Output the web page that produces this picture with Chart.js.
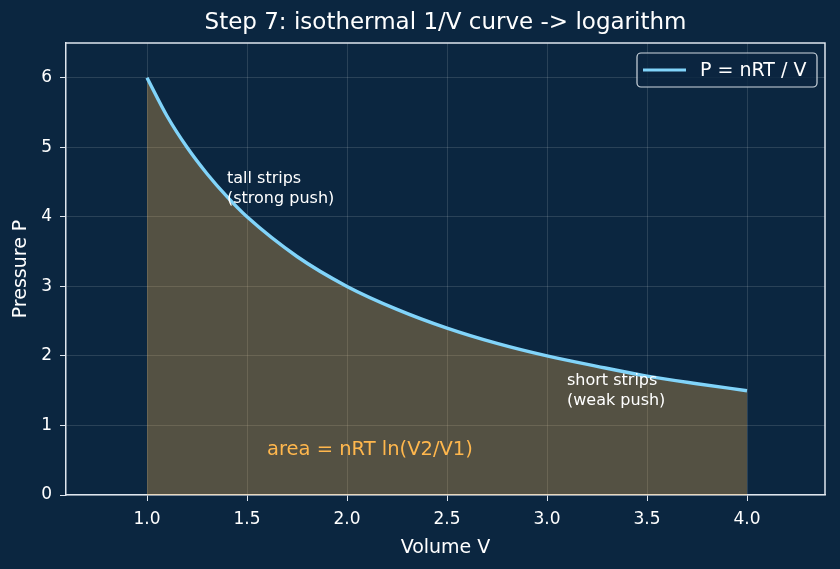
<!DOCTYPE html>
<html>
<head>
<meta charset="utf-8">
<script src="https://cdn.jsdelivr.net/npm/chart.js@4.4.0/dist/chart.umd.min.js"></script>
<style>
  html, body { margin: 0; padding: 0; background: #0b2640; }
  #wrap { width: 840px; height: 569px; }
</style>
</head>
<body>
<div id="wrap"><canvas id="isoterma"></canvas></div>
<script>
// valores
const volumes = [1.0, 1.1, 1.2, 1.3, 1.4, 1.5, 1.75, 2.0, 2.25, 2.5, 2.75, 3.0, 3.25, 3.5, 3.75, 4.0];
const pressoes = [6.0, 5.45, 5.0, 4.62, 4.29, 4.0, 3.43, 3.0, 2.67, 2.4, 2.18, 2.0, 1.85, 1.71, 1.6, 1.5];
const xTicks = [1.0, 1.5, 2.0, 2.5, 3.0, 3.5, 4.0];
const yTicks = [0, 1, 2, 3, 4, 5, 6];

const titulo = 'Step 7: isothermal 1/V curve -> logarithm';
const legenda = 'P = nRT / V';
const notas = [
    { x: 1.4, y: 4.2, lines: ['tall strips', '(strong push)'], color: '#ffffff', size: 16 },
    { x: 3.1, y: 1.3, lines: ['short strips', '(weak push)'], color: '#ffffff', size: 16 },
    { x: 1.6, y: 0.58, lines: ['area = nRT ln(V2/V1)'], color: '#ffb74d', size: 19.5 }
];

const corFundo = '#0b2640';
const corLinha = '#81d4fa';
const corEixo = '#dfe6ee';
const fonte = 'DejaVu Sans';

// desenha fundo, titulo, moldura, legenda e anotacoes
const extras = {
    id: 'extras',
    beforeDraw(chart) {
        const c = chart.ctx;
        c.save();
        c.fillStyle = corFundo;
        c.fillRect(0, 0, chart.width, chart.height);
        c.restore();
    },
    afterDraw(chart) {
        const c = chart.ctx;
        const a = chart.chartArea;
        const sx = chart.scales.x, sy = chart.scales.y;
        c.save();
        // moldura de cima e direita
        c.strokeStyle = corEixo;
        c.lineWidth = 1.5;
        c.beginPath();
        c.moveTo(a.left, a.top);
        c.lineTo(a.right, a.top);
        c.lineTo(a.right, a.bottom);
        c.stroke();

        // titulo
        c.fillStyle = '#ffffff';
        c.font = '23px "' + fonte + '"';
        c.textAlign = 'center';
        c.textBaseline = 'middle';
        c.fillText(titulo, (a.left + a.right) / 2, 23);

        // anotacoes
        c.textAlign = 'left';
        c.textBaseline = 'alphabetic';
        notas.forEach(n => {
            c.fillStyle = n.color;
            c.font = n.size + 'px "' + fonte + '"';
            const px = sx.getPixelForValue(n.x);
            const py = sy.getPixelForValue(n.y);
            const lh = n.size * 1.22;
            for (let i = 0; i < n.lines.length; i++) {
                c.fillText(n.lines[i], px, py - (n.lines.length - 1 - i) * lh);
            }
        });

        // legenda
        const lx = a.right - 188, ly = a.top + 10, lw = 180, lhgt = 34;
        c.fillStyle = 'rgba(11,38,64,0.8)';
        c.strokeStyle = '#cfd8e0';
        c.lineWidth = 1.2;
        c.beginPath();
        c.roundRect(lx, ly, lw, lhgt, 4);
        c.fill();
        c.stroke();
        c.strokeStyle = corLinha;
        c.lineWidth = 3;
        c.beginPath();
        c.moveTo(lx + 6, ly + lhgt / 2);
        c.lineTo(lx + 49, ly + lhgt / 2);
        c.stroke();
        c.fillStyle = '#ffffff';
        c.font = '19px "' + fonte + '"';
        c.textBaseline = 'middle';
        c.fillText(legenda, lx + 63, ly + lhgt / 2 + 1);
        c.restore();
    }
};

const isoterma = new Chart(document.getElementById('isoterma'), {
    type: 'line',
    data: {
        labels: volumes,
        datasets: [{
            label: legenda,
            data: volumes.map((v, i) => ({ x: v, y: pressoes[i] })),
            borderColor: corLinha,
            borderWidth: 3.4,
            backgroundColor: 'rgba(255, 183, 77, 0.3)',
            fill: 'origin',
            pointRadius: 0,
            cubicInterpolationMode: 'monotone'
        }]
    },
    options: {
        responsive: true,
        maintainAspectRatio: false,
        animation: false,
        layout: { padding: { top: 43, right: 15, left: 0, bottom: 0 } },
        plugins: {
            legend: { display: false },
            title: { display: false },
            tooltip: { enabled: false }
        },
        scales: {
            x: {
                type: 'linear',
                min: 0.595,
                max: 4.39,
                afterBuildTicks: s => { s.ticks = xTicks.map(v => ({ value: v })); },
                afterFit: s => { s.height = 74; },
                ticks: {
                    color: '#ffffff',
                    font: { family: fonte, size: 17 },
                    padding: 8,
                    maxRotation: 0,
                    callback: v => Number(v).toFixed(1)
                },
                grid: { color: 'rgba(255,255,255,0.13)', tickColor: corEixo, tickLength: 6 },
                border: { color: corEixo, width: 1.5 },
                title: { display: true, text: 'Volume V', color: '#ffffff', font: { family: fonte, size: 19 }, padding: { top: 0, bottom: 10 } }
            },
            y: {
                min: 0,
                max: 6.5,
                afterBuildTicks: s => { s.ticks = yTicks.map(v => ({ value: v })); },
                afterFit: s => { s.width = 66; },
                ticks: {
                    color: '#ffffff',
                    font: { family: fonte, size: 17 },
                    padding: 8
                },
                grid: { color: 'rgba(255,255,255,0.13)', tickColor: corEixo, tickLength: 6 },
                border: { color: corEixo, width: 1.5 },
                title: { display: true, text: 'Pressure P', color: '#ffffff', font: { family: fonte, size: 19 }, padding: { top: 10, bottom: 0 } }
            }
        }
    },
    plugins: [extras]
});
</script>
</body>
</html>
